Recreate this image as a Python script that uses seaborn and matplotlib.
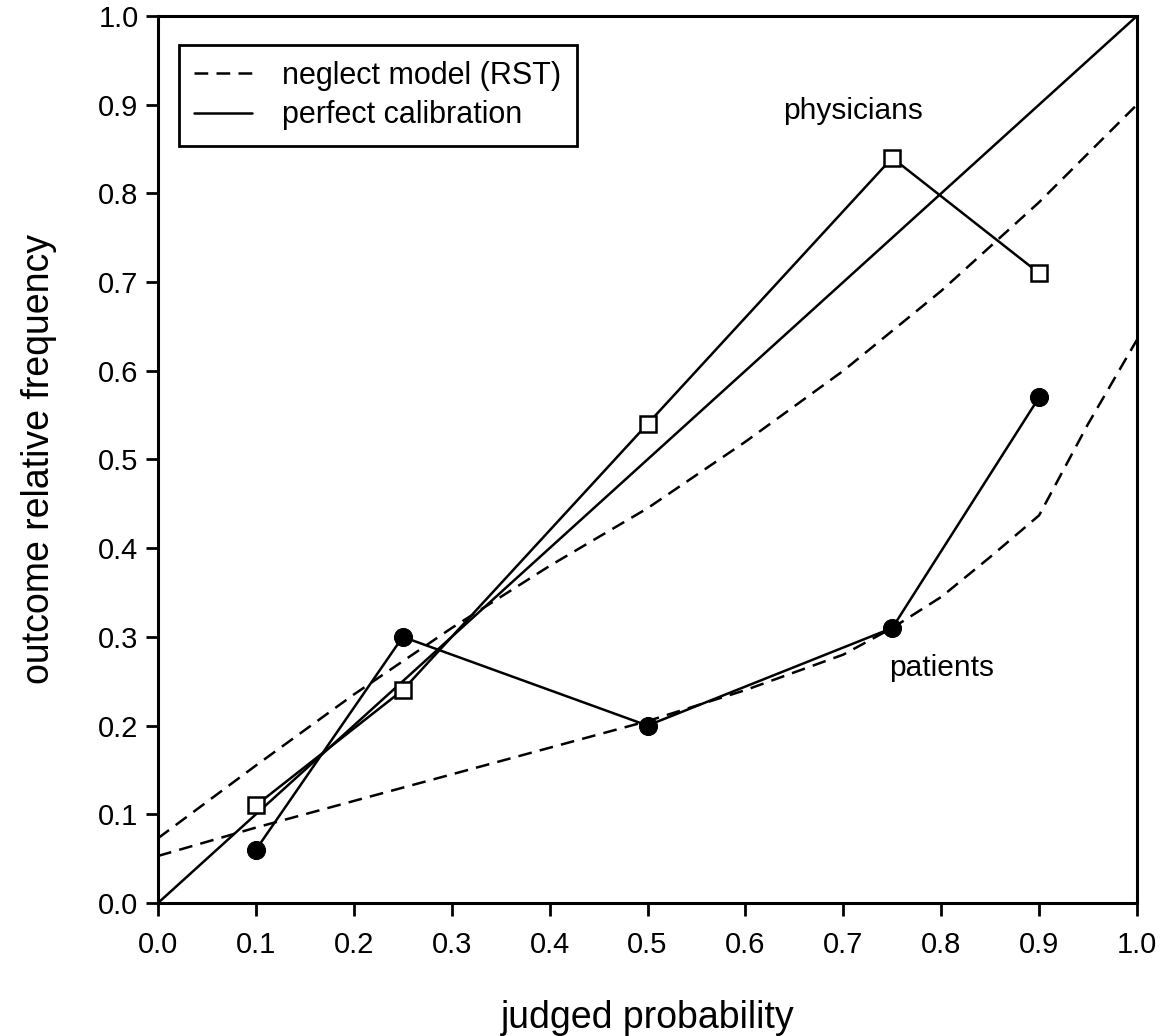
import matplotlib
matplotlib.use("Agg")
import matplotlib.pyplot as plt
import seaborn as sns

sns.set_theme(style="ticks")
plt.rcParams['font.family'] = ['Liberation Sans', 'DejaVu Sans']
plt.rcParams['text.color'] = 'black'
plt.rcParams['axes.labelcolor'] = 'black'
plt.rcParams['xtick.color'] = 'black'
plt.rcParams['ytick.color'] = 'black'

judged = [0.1, 0.25, 0.5, 0.75, 0.9]
physicians = [0.11, 0.24, 0.54, 0.84, 0.71]
patients = [0.06, 0.30, 0.20, 0.31, 0.57]

neg_up_x = [0.0, 0.1, 0.2, 0.3, 0.4, 0.5, 0.6, 0.7, 0.8, 0.9, 1.0]
neg_up_y = [0.073, 0.155, 0.235, 0.31, 0.38, 0.445, 0.52, 0.60, 0.69, 0.79, 0.90]
neg_lo_x = [0.0, 0.1, 0.2, 0.3, 0.4, 0.5, 0.6, 0.7, 0.75, 0.8, 0.85, 0.9, 0.95, 1.0]
neg_lo_y = [0.053, 0.085, 0.115, 0.145, 0.175, 0.205, 0.24, 0.28, 0.31, 0.345, 0.39, 0.437, 0.54, 0.635]
diag = [0.0, 1.0]

ticks = [0.0, 0.1, 0.2, 0.3, 0.4, 0.5, 0.6, 0.7, 0.8, 0.9, 1.0]
tick_labels = [f"{t:.1f}" for t in ticks]

fig = plt.figure(figsize=(11.67, 10.36), dpi=100)
ax = fig.add_axes([0.1354, 0.1284, 0.8389, 0.8562])

lw = 1.8
dash = (0, (5.5, 3.3))
sns.lineplot(x=neg_up_x, y=neg_up_y, ax=ax, color="black", lw=lw, linestyle=dash,
             label="neglect model (RST)", sort=False)
sns.lineplot(x=neg_lo_x, y=neg_lo_y, ax=ax, color="black", lw=lw, linestyle=dash,
             label="_nolegend_", sort=False)
sns.lineplot(x=diag, y=diag, ax=ax, color="black", lw=lw, label="perfect calibration", sort=False)
sns.lineplot(x=judged, y=physicians, ax=ax, color="black", lw=lw, marker="s", markersize=12,
             markerfacecolor="white", markeredgecolor="black", markeredgewidth=1.8,
             label="_nolegend_", sort=False, zorder=5)
sns.lineplot(x=judged, y=patients, ax=ax, color="black", lw=lw, marker="o", markersize=13,
             markerfacecolor="black", markeredgecolor="black",
             label="_nolegend_", sort=False, zorder=5)

ax.set_xlim(0, 1)
ax.set_ylim(0, 1)
ax.set_xticks(ticks)
ax.set_xticklabels(tick_labels)
ax.set_yticks(ticks)
ax.set_yticklabels(tick_labels)
ax.tick_params(axis="both", direction="out", length=9, width=2, labelsize=21, colors="black")
ax.tick_params(axis="x", pad=11)
ax.tick_params(axis="y", pad=5)
for s in ax.spines.values():
    s.set_linewidth(2.2)
    s.set_color("black")
    s.set_visible(True)

ax.set_xlabel("judged probability", fontsize=27, labelpad=30)
ax.set_ylabel("outcome relative frequency", fontsize=27, labelpad=30)

ax.text(0.71, 0.893, "physicians", fontsize=21.5, ha="center", va="center")
ax.text(0.80, 0.265, "patients", fontsize=21.5, ha="center", va="center")

leg = ax.legend(loc="upper left", bbox_to_anchor=(0.021, 0.967), fontsize=22, frameon=True,
                fancybox=False, edgecolor="black", framealpha=1, handlelength=1.9,
                borderpad=0.5, labelspacing=0.32, handletextpad=1.0, borderaxespad=0)
leg.get_frame().set_linewidth(2)

fig.savefig("out.png", dpi=100)
